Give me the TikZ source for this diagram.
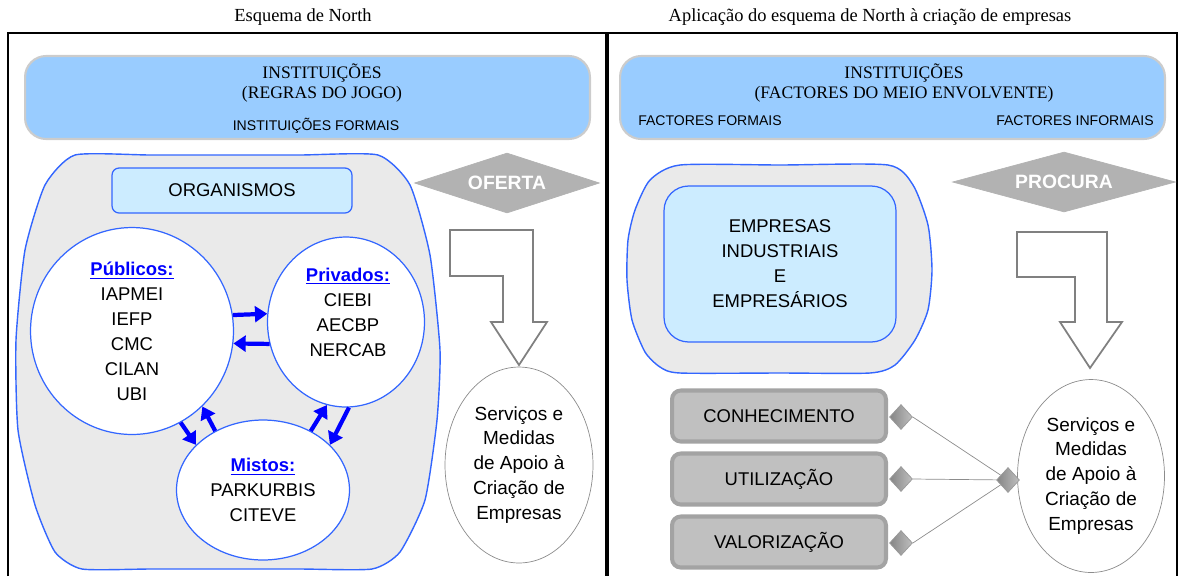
\documentclass[tikz,border=0pt]{standalone}
\usepackage{fontspec}
\setmainfont{Liberation Serif}
\setsansfont{Liberation Sans}
\usetikzlibrary{shapes.geometric,arrows.meta}

\definecolor{topblue}{HTML}{99CCFF}
\definecolor{paleblue}{HTML}{CCECFF}
\definecolor{lineblue}{HTML}{3366FF}
\definecolor{blobgray}{HTML}{EAEAEA}
\definecolor{boxgray}{HTML}{C0C0C0}
\definecolor{edgegray}{HTML}{A3A3A3}
\definecolor{diagray}{HTML}{B2B2B2}

\begin{document}
\begin{tikzpicture}[x=0.02cm, y=-0.02cm, >=Latex,
  topbox/.style={draw=black!20, line width=1.2pt, fill=topblue, rounded corners=12pt, minimum height=1.66cm},
  orgcirc/.style={ellipse, draw=lineblue, fill=white, line width=0.7pt, inner sep=0pt},
  orgtxt/.style={align=center, font=\sffamily\fontsize{10.5}{14.2}\selectfont},
  blarrow/.style={-{Triangle[length=7pt,width=9pt]}, line width=2.4pt, blue},
  offer/.style={diamond, aspect=3, inner sep=1pt, fill=diagray, draw=black!30, text=white, font=\sffamily\bfseries\fontsize{11}{13}\selectfont, minimum height=1.2cm},
  bent/.style={draw=black!50, line width=1pt, fill=white},
  servico/.style={ellipse, draw=black!45, fill=white, inner sep=0pt, align=center, font=\sffamily\fontsize{10.8}{14.2}\selectfont},
  factor/.style={draw=edgegray, line width=2.3pt, fill=boxgray, rounded corners=5pt, minimum width=4.28cm, minimum height=1.02cm, font=\sffamily\fontsize{10.5}{12}\selectfont},
  joint/.style={diamond, draw=black!40, left color=black!48, right color=black!25, inner sep=0pt, minimum width=0.46cm, minimum height=0.5cm},
  small/.style={font=\sffamily\fontsize{8}{10}\selectfont},
  serif/.style={align=center, font=\rmfamily\fontsize{10}{11.3}\selectfont},
]
\useasboundingbox (0,0) rectangle (1183,576);

% Titles of the two schemes
\node[font=\rmfamily\fontsize{10.5}{12}\selectfont] (tleft) at (303,17) {Esquema de North};
\node[font=\rmfamily\fontsize{10.5}{12}\selectfont] (tright) at (870,17) {Aplicação do esquema de North à criação de empresas};

% Frames
\draw[line width=0.8pt] (8,576) -- (8,33) -- (606,33) -- (606,576);
\draw[line width=0.8pt] (608,576) -- (608,33) -- (1177,33) -- (1177,576);

% Institutions (left)
\node[topbox, minimum width=11.3cm] (instl) at (307.5,97.5) {};
\node[serif] (instltxt) at (322,83) {INSTITUIÇÕES\\(REGRAS DO JOGO)};
\node[small] (formal) at (316,126) {INSTITUIÇÕES FORMAIS};

% Institutions (right)
\node[topbox, minimum width=10.9cm] (instr) at (892.5,97.5) {};
\node[serif] (instrtxt) at (904,83) {INSTITUIÇÕES\\(FACTORES DO MEIO ENVOLVENTE)};
\node[small] (fformal) at (710,121) {FACTORES FORMAIS};
\node[small] (finformal) at (1075,121) {FACTORES INFORMAIS};

% Gray blob with the organisms
\draw[draw=lineblue, fill=blobgray, line width=0.8pt] plot[smooth cycle, tension=0.35] coordinates {
  (75,155) (150,155) (225,155) (300,155) (378,155) (410,185) (430,255) (440,350) (437,420) (425,500)
  (400,552) (372,569) (300,569) (225,569) (150,569) (82,569) (55,552) (35,505) (18,430) (16,340) (25,250) (45,185)};

\node[draw=lineblue, fill=paleblue, line width=0.7pt, rounded corners=4pt, minimum width=4.8cm, minimum height=0.9cm,
  font=\sffamily\fontsize{10.5}{12}\selectfont] (org) at (232,190.5) {ORGANISMOS};

% The three kinds of organisms
\node[orgcirc, minimum width=4.06cm, minimum height=4.14cm, orgtxt] (pub) at (132,331)
  {{\color{blue}\bfseries\underline{Públicos:}}\\IAPMEI\\IEFP\\CMC\\CILAN\\UBI};
\node[orgcirc, minimum width=3.14cm, minimum height=3.4cm] (priv) at (346,322) {};
\node[orgtxt] (privtxt) at (348,312) {{\color{blue}\bfseries\underline{Privados:}}\\CIEBI\\AECBP\\NERCAB};
\node[orgcirc, minimum width=3.46cm, minimum height=2.8cm, orgtxt] (mist) at (263,490)
  {{\color{blue}\bfseries\underline{Mistos:}}\\PARKURBIS\\CITEVE};

% Blue arrows between organisms
\draw[blarrow] (pub.9.5) -- (priv.174);
\draw[blarrow] (priv.196) -- (pub.-7);
\draw[blarrow] (pub.-62) -- (mist.146);
\draw[blarrow] (mist.129) -- (pub.-47);
\draw[blarrow] (mist.51) -- (priv.257);
\draw[blarrow] (priv.272) -- (mist.34);

% Offer side
\node[offer, minimum width=3.7cm] (oferta) at (507,183) {OFERTA};
\draw[bent] (450,230) -- (533,230) -- (533,322) -- (547,322) -- (519,365) -- (491,322)
  -- (503,322) -- (503,276) -- (450,276) -- cycle;
\node[servico, minimum width=2.96cm, minimum height=3.92cm] (servl) at (519,465)
  {Serviços e\\Medidas\\de Apoio à\\Criação de\\Empresas};

% Firms and entrepreneurs
\draw[draw=lineblue, fill=blobgray, line width=0.8pt] plot[smooth cycle, tension=0.4] coordinates {
  (680,165) (780,165) (888,165) (913,185) (928,225) (932,270) (928,310) (915,340) (895,365) (870,373)
  (780,373) (680,373) (660,367) (645,352) (632,320) (627,280) (628,240) (635,210) (650,180)};
\node[draw=lineblue, fill=paleblue, line width=0.7pt, rounded corners=14pt, minimum width=4.64cm, minimum height=3.12cm,
  orgtxt] (empr) at (780,264) {EMPRESAS\\INDUSTRIAIS\\E\\EMPRESÁRIOS};

% Demand side
\node[offer, minimum width=4.46cm] (procura) at (1064,182) {PROCURA};
\draw[bent] (1017,232) -- (1107,232) -- (1107,322) -- (1122,322) -- (1090,368) -- (1060,322)
  -- (1075,322) -- (1075,277) -- (1017,277) -- cycle;
\node[servico, minimum width=2.94cm, minimum height=3.86cm] (servr) at (1091,476)
  {Serviços e\\Medidas\\de Apoio à\\Criação de\\Empresas};

% Knowledge, use, valorisation
\node[factor] (conh) at (779,416) {CONHECIMENTO};
\node[factor] (util) at (779,479) {UTILIZAÇÃO};
\node[factor] (valor) at (779,542) {VALORIZAÇÃO};

\node[joint] (dconh) at (901,417) {};
\node[joint] (dutil) at (901,479) {};
\node[joint] (dvalor) at (901,543) {};
\node[joint] (dall) at (1008,480) {};

\draw[black!45] (dconh.east) -- (dall);
\draw[black!45] (dutil.east) -- (dall);
\draw[black!45] (dvalor.east) -- (dall);

\end{tikzpicture}
\end{document}
